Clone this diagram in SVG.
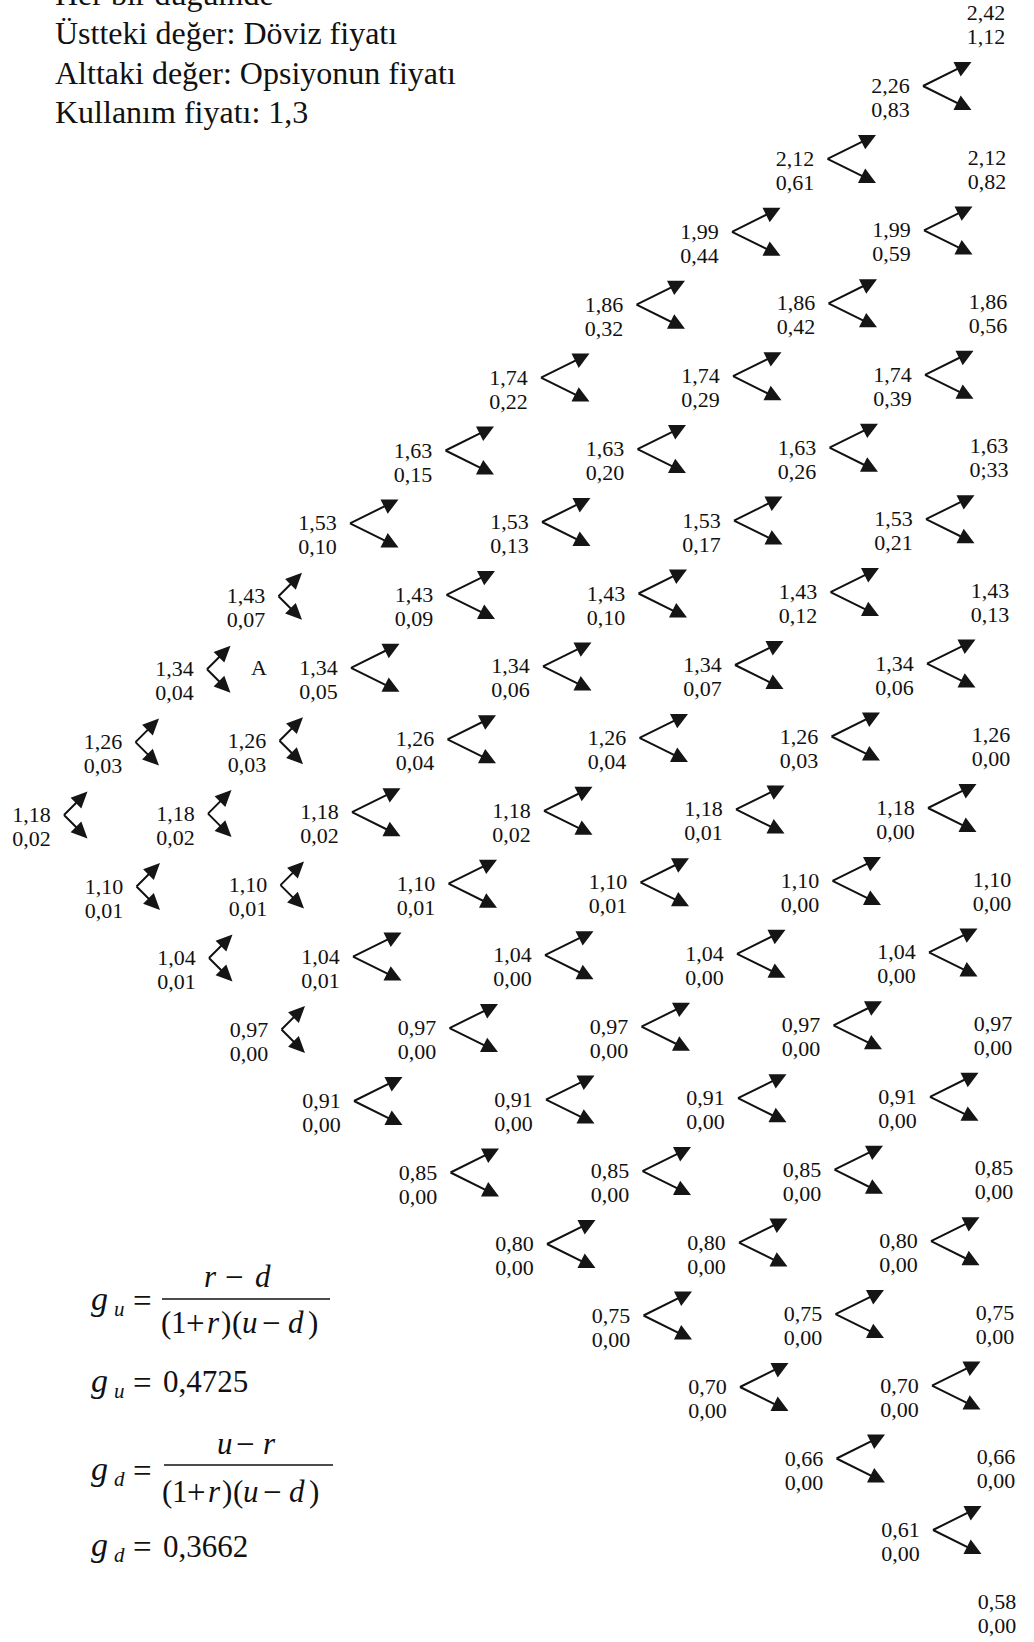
<svg xmlns="http://www.w3.org/2000/svg" xmlns:xlink="http://www.w3.org/1999/xlink" width="1034" height="1642" viewBox="0 0 1034 1642">
<style>
text{font-family:"Liberation Serif","Times New Roman",serif;fill:#111}
.t{font-size:22px;text-anchor:middle}
.h{font-size:32px}
.m{font-size:31px}
.g{font-size:34px;font-style:italic}
.s{font-size:21px;font-style:italic}
.i{font-style:italic}
.op{font-size:33px}
.ln{stroke:#111;stroke-width:2;fill:none}
.hd{fill:#151515}
</style>
<defs>
<g id="aw"><path class="ln" d="M0,0 L42,-20.8 M0,0 L42,20.8"/><path class="hd" d="M48.5,-24 L30.5,-24 L37.7,-9.6 Z M48.5,24 L30.5,24 L37.7,9.6 Z"/></g>
<g id="an"><path class="ln" d="M0,0 L19,-19 M0,0 L19,19"/><path class="hd" d="M23.5,-23.5 L17.3,-6.6 L6.6,-17.3 Z M23.5,23.5 L17.3,6.6 L6.6,17.3 Z"/></g>
</defs>
<rect width="1034" height="1642" fill="#fff"/>
<g id="legend">
<text class="h" x="55" y="5">Her bir düğümde</text>
<text class="h" x="55" y="44">Üstteki değer: Döviz fiyatı</text>
<text class="h" x="55" y="84">Alttaki değer: Opsiyonun fiyatı</text>
<text class="h" x="55" y="123">Kullanım fiyatı: 1,3</text>
</g>
<g id="connectors">
<use href="#an" x="64" y="815"/>
<use href="#an" x="135.5" y="742.1"/><use href="#an" x="136.5" y="886.5"/>
<use href="#an" x="207" y="669.2"/><use href="#an" x="208" y="813.6"/><use href="#an" x="209" y="958"/>
<use href="#an" x="278.5" y="596.3"/><use href="#an" x="279.5" y="740.7"/><use href="#an" x="280.5" y="885.1"/><use href="#an" x="281.5" y="1029.5"/>
<use href="#aw" x="350" y="523.4"/><use href="#aw" x="351" y="667.8"/><use href="#aw" x="352" y="812.2"/><use href="#aw" x="353" y="956.6"/><use href="#aw" x="354" y="1101"/>
<use href="#aw" x="445.5" y="450.5"/><use href="#aw" x="446.5" y="594.9"/><use href="#aw" x="447.5" y="739.3"/><use href="#aw" x="448.5" y="883.7"/><use href="#aw" x="449.5" y="1028.1"/><use href="#aw" x="450.5" y="1172.5"/>
<use href="#aw" x="541" y="377.6"/><use href="#aw" x="542" y="522"/><use href="#aw" x="543" y="666.4"/><use href="#aw" x="544" y="810.8"/><use href="#aw" x="545" y="955.2"/><use href="#aw" x="546" y="1099.6"/><use href="#aw" x="547" y="1244"/>
<use href="#aw" x="636.5" y="304.7"/><use href="#aw" x="637.5" y="449.1"/><use href="#aw" x="638.5" y="593.5"/><use href="#aw" x="639.5" y="737.9"/><use href="#aw" x="640.5" y="882.3"/><use href="#aw" x="641.5" y="1026.7"/><use href="#aw" x="642.5" y="1171.1"/><use href="#aw" x="643.5" y="1315.5"/>
<use href="#aw" x="732" y="231.8"/><use href="#aw" x="733" y="376.2"/><use href="#aw" x="734" y="520.6"/><use href="#aw" x="735" y="665"/><use href="#aw" x="736" y="809.4"/><use href="#aw" x="737" y="953.8"/><use href="#aw" x="738" y="1098.2"/><use href="#aw" x="739" y="1242.6"/><use href="#aw" x="740" y="1387"/>
<use href="#aw" x="827.5" y="158.9"/><use href="#aw" x="828.5" y="303.3"/><use href="#aw" x="829.5" y="447.7"/><use href="#aw" x="830.5" y="592.1"/><use href="#aw" x="831.5" y="736.5"/><use href="#aw" x="832.5" y="880.9"/><use href="#aw" x="833.5" y="1025.3"/><use href="#aw" x="834.5" y="1169.7"/><use href="#aw" x="835.5" y="1314.1"/><use href="#aw" x="836.5" y="1458.5"/>
<use href="#aw" x="923" y="86"/><use href="#aw" x="924" y="230.4"/><use href="#aw" x="925" y="374.8"/><use href="#aw" x="926" y="519.2"/><use href="#aw" x="927" y="663.6"/><use href="#aw" x="928" y="808"/><use href="#aw" x="929" y="952.4"/><use href="#aw" x="930" y="1096.8"/><use href="#aw" x="931" y="1241.2"/><use href="#aw" x="932" y="1385.6"/><use href="#aw" x="933" y="1530"/>
</g>
<g id="nodes">
<g id="n0_0"><text class="t" x="31.5" y="822">1,18<tspan x="31.5" dy="24">0,02</tspan></text></g>
<g id="n1_1"><text class="t" x="103" y="749.1">1,26<tspan x="103" dy="24">0,03</tspan></text></g>
<g id="n1_m1"><text class="t" x="104" y="893.5">1,10<tspan x="104" dy="24">0,01</tspan></text></g>
<g id="n2_2"><text class="t" x="174.5" y="676.2">1,34<tspan x="174.5" dy="24">0,04</tspan></text></g>
<g id="n2_0"><text class="t" x="175.5" y="820.6">1,18<tspan x="175.5" dy="24">0,02</tspan></text></g>
<g id="n2_m2"><text class="t" x="176.5" y="965">1,04<tspan x="176.5" dy="24">0,01</tspan></text></g>
<g id="n3_3"><text class="t" x="246" y="603.3">1,43<tspan x="246" dy="24">0,07</tspan></text></g>
<g id="n3_1"><text class="t" x="247" y="747.7">1,26<tspan x="247" dy="24">0,03</tspan></text></g>
<g id="n3_m1"><text class="t" x="248" y="892.1">1,10<tspan x="248" dy="24">0,01</tspan></text></g>
<g id="n3_m3"><text class="t" x="249" y="1036.5">0,97<tspan x="249" dy="24">0,00</tspan></text></g>
<g id="labelA"><text class="t" x="259" y="675">A</text></g>
<g id="n4_4"><text class="t" x="317.5" y="530.4">1,53<tspan x="317.5" dy="24">0,10</tspan></text></g>
<g id="n4_2"><text class="t" x="318.5" y="674.8">1,34<tspan x="318.5" dy="24">0,05</tspan></text></g>
<g id="n4_0"><text class="t" x="319.5" y="819.2">1,18<tspan x="319.5" dy="24">0,02</tspan></text></g>
<g id="n4_m2"><text class="t" x="320.5" y="963.6">1,04<tspan x="320.5" dy="24">0,01</tspan></text></g>
<g id="n4_m4"><text class="t" x="321.5" y="1108">0,91<tspan x="321.5" dy="24">0,00</tspan></text></g>
<g id="n5_5"><text class="t" x="413" y="457.5">1,63<tspan x="413" dy="24">0,15</tspan></text></g>
<g id="n5_3"><text class="t" x="414" y="601.9">1,43<tspan x="414" dy="24">0,09</tspan></text></g>
<g id="n5_1"><text class="t" x="415" y="746.3">1,26<tspan x="415" dy="24">0,04</tspan></text></g>
<g id="n5_m1"><text class="t" x="416" y="890.7">1,10<tspan x="416" dy="24">0,01</tspan></text></g>
<g id="n5_m3"><text class="t" x="417" y="1035.1">0,97<tspan x="417" dy="24">0,00</tspan></text></g>
<g id="n5_m5"><text class="t" x="418" y="1179.5">0,85<tspan x="418" dy="24">0,00</tspan></text></g>
<g id="n6_6"><text class="t" x="508.5" y="384.6">1,74<tspan x="508.5" dy="24">0,22</tspan></text></g>
<g id="n6_4"><text class="t" x="509.5" y="529">1,53<tspan x="509.5" dy="24">0,13</tspan></text></g>
<g id="n6_2"><text class="t" x="510.5" y="673.4">1,34<tspan x="510.5" dy="24">0,06</tspan></text></g>
<g id="n6_0"><text class="t" x="511.5" y="817.8">1,18<tspan x="511.5" dy="24">0,02</tspan></text></g>
<g id="n6_m2"><text class="t" x="512.5" y="962.2">1,04<tspan x="512.5" dy="24">0,00</tspan></text></g>
<g id="n6_m4"><text class="t" x="513.5" y="1106.6">0,91<tspan x="513.5" dy="24">0,00</tspan></text></g>
<g id="n6_m6"><text class="t" x="514.5" y="1251">0,80<tspan x="514.5" dy="24">0,00</tspan></text></g>
<g id="n7_7"><text class="t" x="604" y="311.7">1,86<tspan x="604" dy="24">0,32</tspan></text></g>
<g id="n7_5"><text class="t" x="605" y="456.1">1,63<tspan x="605" dy="24">0,20</tspan></text></g>
<g id="n7_3"><text class="t" x="606" y="600.5">1,43<tspan x="606" dy="24">0,10</tspan></text></g>
<g id="n7_1"><text class="t" x="607" y="744.9">1,26<tspan x="607" dy="24">0,04</tspan></text></g>
<g id="n7_m1"><text class="t" x="608" y="889.3">1,10<tspan x="608" dy="24">0,01</tspan></text></g>
<g id="n7_m3"><text class="t" x="609" y="1033.7">0,97<tspan x="609" dy="24">0,00</tspan></text></g>
<g id="n7_m5"><text class="t" x="610" y="1178.1">0,85<tspan x="610" dy="24">0,00</tspan></text></g>
<g id="n7_m7"><text class="t" x="611" y="1322.5">0,75<tspan x="611" dy="24">0,00</tspan></text></g>
<g id="n8_8"><text class="t" x="699.5" y="238.8">1,99<tspan x="699.5" dy="24">0,44</tspan></text></g>
<g id="n8_6"><text class="t" x="700.5" y="383.2">1,74<tspan x="700.5" dy="24">0,29</tspan></text></g>
<g id="n8_4"><text class="t" x="701.5" y="527.6">1,53<tspan x="701.5" dy="24">0,17</tspan></text></g>
<g id="n8_2"><text class="t" x="702.5" y="672">1,34<tspan x="702.5" dy="24">0,07</tspan></text></g>
<g id="n8_0"><text class="t" x="703.5" y="816.4">1,18<tspan x="703.5" dy="24">0,01</tspan></text></g>
<g id="n8_m2"><text class="t" x="704.5" y="960.8">1,04<tspan x="704.5" dy="24">0,00</tspan></text></g>
<g id="n8_m4"><text class="t" x="705.5" y="1105.2">0,91<tspan x="705.5" dy="24">0,00</tspan></text></g>
<g id="n8_m6"><text class="t" x="706.5" y="1249.6">0,80<tspan x="706.5" dy="24">0,00</tspan></text></g>
<g id="n8_m8"><text class="t" x="707.5" y="1394">0,70<tspan x="707.5" dy="24">0,00</tspan></text></g>
<g id="n9_9"><text class="t" x="795" y="165.9">2,12<tspan x="795" dy="24">0,61</tspan></text></g>
<g id="n9_7"><text class="t" x="796" y="310.3">1,86<tspan x="796" dy="24">0,42</tspan></text></g>
<g id="n9_5"><text class="t" x="797" y="454.7">1,63<tspan x="797" dy="24">0,26</tspan></text></g>
<g id="n9_3"><text class="t" x="798" y="599.1">1,43<tspan x="798" dy="24">0,12</tspan></text></g>
<g id="n9_1"><text class="t" x="799" y="743.5">1,26<tspan x="799" dy="24">0,03</tspan></text></g>
<g id="n9_m1"><text class="t" x="800" y="887.9">1,10<tspan x="800" dy="24">0,00</tspan></text></g>
<g id="n9_m3"><text class="t" x="801" y="1032.3">0,97<tspan x="801" dy="24">0,00</tspan></text></g>
<g id="n9_m5"><text class="t" x="802" y="1176.7">0,85<tspan x="802" dy="24">0,00</tspan></text></g>
<g id="n9_m7"><text class="t" x="803" y="1321.1">0,75<tspan x="803" dy="24">0,00</tspan></text></g>
<g id="n9_m9"><text class="t" x="804" y="1465.5">0,66<tspan x="804" dy="24">0,00</tspan></text></g>
<g id="n10_10"><text class="t" x="890.5" y="93">2,26<tspan x="890.5" dy="24">0,83</tspan></text></g>
<g id="n10_8"><text class="t" x="891.5" y="237.4">1,99<tspan x="891.5" dy="24">0,59</tspan></text></g>
<g id="n10_6"><text class="t" x="892.5" y="381.8">1,74<tspan x="892.5" dy="24">0,39</tspan></text></g>
<g id="n10_4"><text class="t" x="893.5" y="526.2">1,53<tspan x="893.5" dy="24">0,21</tspan></text></g>
<g id="n10_2"><text class="t" x="894.5" y="670.6">1,34<tspan x="894.5" dy="24">0,06</tspan></text></g>
<g id="n10_0"><text class="t" x="895.5" y="815">1,18<tspan x="895.5" dy="24">0,00</tspan></text></g>
<g id="n10_m2"><text class="t" x="896.5" y="959.4">1,04<tspan x="896.5" dy="24">0,00</tspan></text></g>
<g id="n10_m4"><text class="t" x="897.5" y="1103.8">0,91<tspan x="897.5" dy="24">0,00</tspan></text></g>
<g id="n10_m6"><text class="t" x="898.5" y="1248.2">0,80<tspan x="898.5" dy="24">0,00</tspan></text></g>
<g id="n10_m8"><text class="t" x="899.5" y="1392.6">0,70<tspan x="899.5" dy="24">0,00</tspan></text></g>
<g id="n10_m10"><text class="t" x="900.5" y="1537">0,61<tspan x="900.5" dy="24">0,00</tspan></text></g>
<g id="n11_11"><text class="t" x="986" y="20.1">2,42<tspan x="986" dy="24">1,12</tspan></text></g>
<g id="n11_9"><text class="t" x="987" y="164.5">2,12<tspan x="987" dy="24">0,82</tspan></text></g>
<g id="n11_7"><text class="t" x="988" y="308.9">1,86<tspan x="988" dy="24">0,56</tspan></text></g>
<g id="n11_5"><text class="t" x="989" y="453.3">1,63<tspan x="989" dy="24">0;33</tspan></text></g>
<g id="n11_3"><text class="t" x="990" y="597.7">1,43<tspan x="990" dy="24">0,13</tspan></text></g>
<g id="n11_1"><text class="t" x="991" y="742.1">1,26<tspan x="991" dy="24">0,00</tspan></text></g>
<g id="n11_m1"><text class="t" x="992" y="886.5">1,10<tspan x="992" dy="24">0,00</tspan></text></g>
<g id="n11_m3"><text class="t" x="993" y="1030.9">0,97<tspan x="993" dy="24">0,00</tspan></text></g>
<g id="n11_m5"><text class="t" x="994" y="1175.3">0,85<tspan x="994" dy="24">0,00</tspan></text></g>
<g id="n11_m7"><text class="t" x="995" y="1319.7">0,75<tspan x="995" dy="24">0,00</tspan></text></g>
<g id="n11_m9"><text class="t" x="996" y="1464.1">0,66<tspan x="996" dy="24">0,00</tspan></text></g>
<g id="n11_m11"><text class="t" x="997" y="1608.5">0,58<tspan x="997" dy="24">0,00</tspan></text></g>
</g>
<g id="formulas">
<text class="g" x="91" y="1310">g</text><text class="s" x="114" y="1316">u</text>
<text class="op" x="133" y="1312">=</text>
<line x1="162" y1="1299" x2="330" y2="1299" stroke="#111" stroke-width="1.5"/>
<text class="m"><tspan class="i" x="204" y="1287">r</tspan><tspan class="op" x="225" y="1288">−</tspan><tspan class="i" x="255" y="1287">d</tspan></text>
<text class="m"><tspan x="161" y="1333">(</tspan><tspan x="171" y="1333">1</tspan><tspan class="op" x="186" y="1334">+</tspan><tspan class="i" x="207" y="1333">r</tspan><tspan x="221" y="1333">)</tspan><tspan x="232" y="1333">(</tspan><tspan class="i" x="242" y="1333">u</tspan><tspan class="op" x="262" y="1334">−</tspan><tspan class="i" x="288" y="1333">d</tspan><tspan x="308" y="1333">)</tspan></text>

<text class="g" x="91" y="1392">g</text><text class="s" x="114" y="1398">u</text>
<text class="op" x="133" y="1394">=</text>
<text class="m" x="163" y="1392">0,4725</text>

<text class="g" x="91" y="1480">g</text><text class="s" x="114" y="1486">d</text>
<text class="op" x="133" y="1482">=</text>
<line x1="164" y1="1465" x2="333" y2="1465" stroke="#111" stroke-width="1.5"/>
<text class="m"><tspan class="i" x="217" y="1454">u</tspan><tspan class="op" x="236" y="1455">−</tspan><tspan class="i" x="263" y="1454">r</tspan></text>
<text class="m"><tspan x="162" y="1502">(</tspan><tspan x="172" y="1502">1</tspan><tspan class="op" x="187" y="1503">+</tspan><tspan class="i" x="208" y="1502">r</tspan><tspan x="222" y="1502">)</tspan><tspan x="233" y="1502">(</tspan><tspan class="i" x="243" y="1502">u</tspan><tspan class="op" x="263" y="1503">−</tspan><tspan class="i" x="289" y="1502">d</tspan><tspan x="309" y="1502">)</tspan></text>

<text class="g" x="91" y="1556">g</text><text class="s" x="114" y="1562">d</text>
<text class="op" x="133" y="1558">=</text>
<text class="m" x="163" y="1557">0,3662</text>
</g>
</svg>
